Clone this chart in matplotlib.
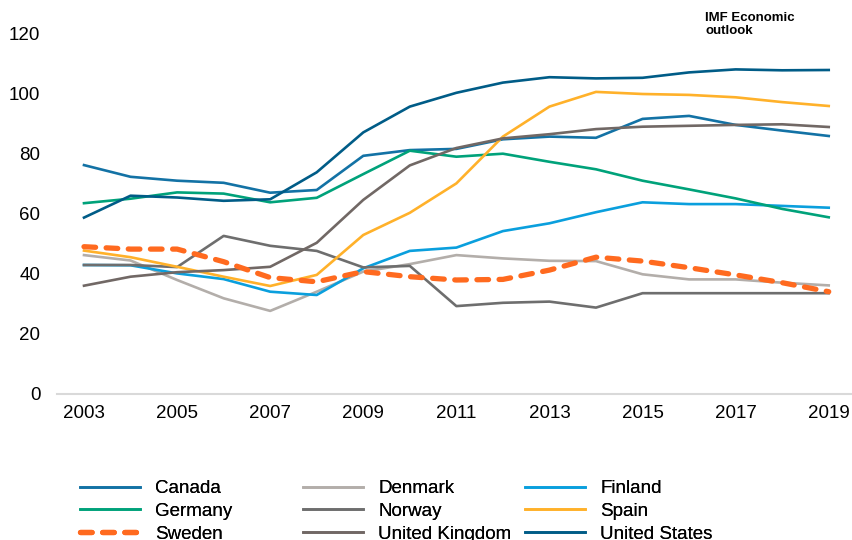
import matplotlib.pyplot as plt
import numpy as np

plt.rcParams['font.family'] = ['Liberation Sans', 'DejaVu Sans']

# Data
years = np.arange(2003, 2020)
canada = [76.3, 72.4, 71.1, 70.4, 67.1, 68.0, 79.4, 81.3, 81.7, 84.9, 85.8, 85.4, 91.7, 92.7, 89.7, 87.8, 86.0]
denmark = [46.3, 44.5, 38.0, 31.9, 27.7, 34.1, 40.8, 43.3, 46.3, 45.2, 44.4, 44.3, 39.9, 38.2, 38.2, 37.1, 36.2]
finland = [43.0, 42.9, 40.2, 38.3, 34.1, 33.0, 41.9, 47.7, 48.8, 54.3, 56.9, 60.6, 63.9, 63.3, 63.3, 62.7, 62.1]
germany = [63.6, 65.1, 67.2, 66.8, 63.9, 65.4, 73.3, 81.1, 79.1, 80.1, 77.4, 74.9, 71.1, 68.2, 65.2, 61.7, 58.9]
norway = [43.0, 43.0, 42.3, 52.7, 49.4, 47.7, 42.2, 42.7, 29.3, 30.4, 30.8, 28.8, 33.6, 33.6, 33.6, 33.6, 33.6]
spain = [47.8, 45.6, 42.4, 39.1, 36.0, 39.7, 53.0, 60.4, 70.2, 85.8, 95.8, 100.7, 100.0, 99.7, 98.9, 97.3, 96.0]
sweden = [49.1, 48.3, 48.3, 44.1, 38.8, 37.4, 40.8, 39.1, 38.0, 38.2, 41.3, 45.6, 44.3, 42.1, 39.7, 37.1, 34.1]
uk = [36.1, 39.1, 40.6, 41.3, 42.4, 50.4, 64.7, 76.2, 82.0, 85.2, 86.6, 88.3, 89.1, 89.4, 89.7, 89.9, 89.0]
us = [58.8, 66.1, 65.5, 64.4, 64.9, 73.9, 87.2, 95.8, 100.4, 103.8, 105.6, 105.2, 105.4, 107.2, 108.2, 107.9, 108.0]

series = [
    ('Canada', canada, '#1372a5'),
    ('Denmark', denmark, '#b3aeaa'),
    ('Finland', finland, '#0a9fdd'),
    ('Germany', germany, '#00a27a'),
    ('Norway', norway, '#6e6e6e'),
    ('Spain', spain, '#ffb12a'),
    ('Sweden', sweden, '#ff6a1f'),
    ('United Kingdom', uk, '#716865'),
    ('United States', us, '#005c87'),
]

fig = plt.figure(figsize=(8.52, 5.4), dpi=100)
ax = fig.add_axes([57 / 852, 146 / 540, 795 / 852, 360 / 540])

handles = {}
for name, vals, col in series:
    if name == 'Sweden':
        ln, = ax.plot(years, vals, color=col, lw=3.8, dashes=(2.2, 2.0),
                      dash_capstyle='round', zorder=5)
    else:
        ln, = ax.plot(years, vals, color=col, lw=1.9)
    handles[name] = ln

ax.set_xlim(2002.42, 2019.5)
ax.set_ylim(0, 120)
ax.set_xticks(np.arange(2003, 2020, 2))
ax.set_yticks(np.arange(0, 121, 20))
for s in ['top', 'right', 'left']:
    ax.spines[s].set_visible(False)
ax.spines['bottom'].set_color('#d9d9d9')
ax.spines['bottom'].set_linewidth(1.5)
ax.tick_params(length=0, labelsize=13.5, colors='black')
ax.tick_params(axis='y', pad=12)
ax.tick_params(axis='x', pad=8)

fig.text(705 / 852, 1 - 12 / 540, 'IMF Economic\noutlook', fontsize=9.5,
         fontweight='bold', va='top', ha='left', linespacing=1.1)

# Legend in three columns
columns = [['Canada', 'Germany', 'Sweden'],
           ['Denmark', 'Norway', 'United Kingdom'],
           ['Finland', 'Spain', 'United States']]
col_x = [80, 303, 525]
for cx, names in zip(col_x, columns):
    leg = fig.legend([handles[n] for n in names], names,
                     loc='upper left', bbox_to_anchor=(cx / 852, 1 - 480 / 540),
                     frameon=False, fontsize=13.5, handlelength=3.2,
                     handletextpad=0.8, labelspacing=0.3, borderaxespad=0,
                     borderpad=0)
    fig.add_artist(leg)

fig.savefig('out.png', dpi=100)
